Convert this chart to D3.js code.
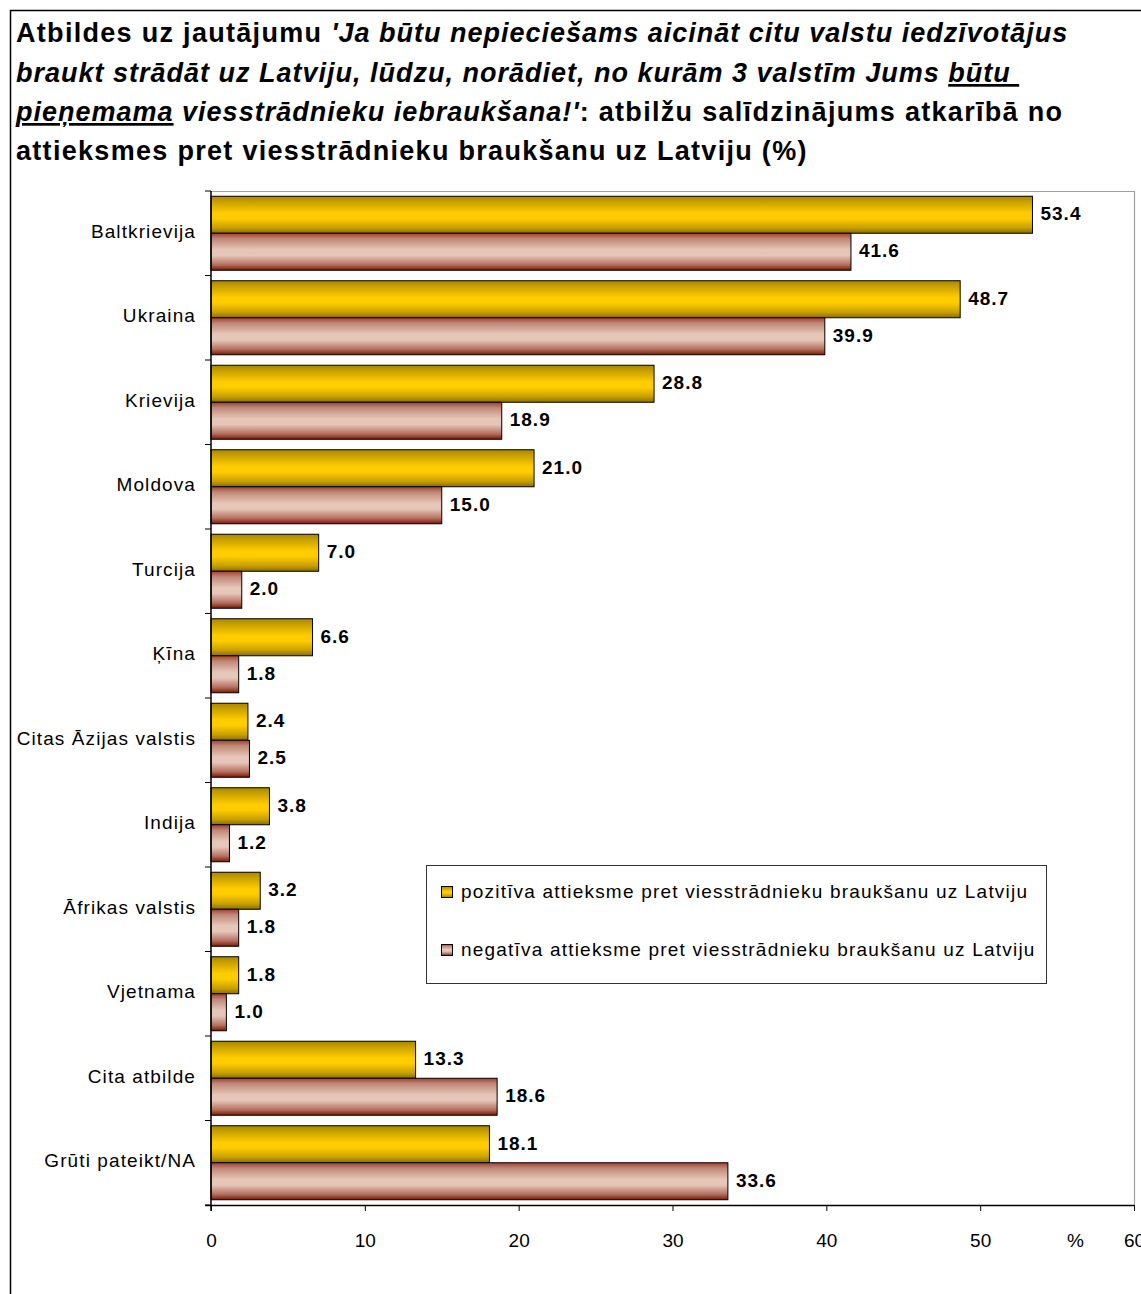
<!DOCTYPE html>
<html><head><meta charset="utf-8">
<script src="https://cdn.jsdelivr.net/npm/d3@7"></script>
<style>
html,body{margin:0;padding:0;background:#fff;}
svg{display:block;font-family:Arial,"Liberation Sans",sans-serif;}
</style></head>
<body>
<svg id="chart" width="1141" height="1294"></svg>
<script>
const categories = ["Baltkrievija","Ukraina","Krievija","Moldova","Turcija","Ķīna","Citas Āzijas valstis","Indija","Āfrikas valstis","Vjetnama","Cita atbilde","Grūti pateikt/NA"];
const seriesNames = ["pozitīva attieksme pret viesstrādnieku braukšanu uz Latviju","negatīva attieksme pret viesstrādnieku braukšanu uz Latviju"];
const positiveValues = [53.4,48.7,28.8,21.0,7.0,6.6,2.4,3.8,3.2,1.8,13.3,18.1];
const negativeValues = [41.6,39.9,18.9,15.0,2.0,1.8,2.5,1.2,1.8,1.0,18.6,33.6];
const xTicks = [0,10,20,30,40,50,60];

(function(){
const svg = d3.select("#chart");
const defs = svg.append("defs");

function grad(id, stops){
  const g = defs.append("linearGradient").attr("id",id).attr("x1",0).attr("y1",0).attr("x2",0).attr("y2",1);
  stops.forEach(s=>g.append("stop").attr("offset",s[0]).attr("stop-color",s[1]));
}
grad("gPos",[[0,"#a88700"],[0.15,"#c8a000"],[0.45,"#ffcc00"],[0.6,"#ffcc00"],[0.85,"#c8a000"],[1,"#8a6e00"]]);
grad("gNeg",[[0,"#a04030"],[0.15,"#c08878"],[0.45,"#e6c6b8"],[0.6,"#e6c6b8"],[0.85,"#b47060"],[1,"#7a1a00"]]);
const fills = ["url(#gPos)","url(#gNeg)"];

// outer frame
svg.append("line").attr("x1",10.5).attr("y1",10).attr("x2",10.5).attr("y2",1294).attr("stroke","#000").attr("stroke-width",1.5);
svg.append("line").attr("x1",10).attr("y1",10.5).attr("x2",1141).attr("y2",10.5).attr("stroke","#000").attr("stroke-width",1.5);

// title
const title = svg.append("text").attr("x",16).attr("font-size",27).attr("font-weight","bold").attr("fill","#000");
const lines = [
  [["Atbildes uz jautājumu ",{}],["'Ja būtu nepieciešams aicināt citu valstu iedzīvotājus",{i:1}]],
  [["braukt strādāt uz Latviju, lūdzu, norādiet, no kurām 3 valstīm Jums ",{i:1}],["būtu ",{i:1,u:1}]],
  [["pieņemama",{i:1,u:1}],[" viesstrādnieku iebraukšana!'",{i:1}],[": atbilžu salīdzinājums atkarībā no",{}]],
  [["attieksmes pret viesstrādnieku braukšanu uz Latviju (%)",{}]]
];
const baselines = [42,82,121,160];
lines.forEach((ln,li)=>{
  ln.forEach((seg,si)=>{
    const t = title.append("tspan").text(seg[0]);
    if(si===0) t.attr("x",16).attr("y",baselines[li]);
    if(seg[1].i) t.attr("font-style","italic").attr("letter-spacing",1.0);
    else t.attr("letter-spacing",1.3);
    if(seg[1].u) t.attr("text-decoration","underline");
  });
});

// plot
const pLeft = 211, pRight = 1134, pTop = 191, pBottom = 1205;
const x = d3.scaleLinear().domain([0,60]).range([pLeft,pRight]);
const y = d3.scaleBand().domain(categories).range([pTop,pBottom]).paddingInner(0.124).paddingOuter(0.062);
const ySub = d3.scaleBand().domain([0,1]).range([0,y.bandwidth()]);

svg.append("path").attr("d",`M${pLeft},${pTop+0.5}H${pRight+0.5}V${pBottom}`).attr("fill","none").attr("stroke","#a0a0a0").attr("stroke-width",1.2);

const data = [];
categories.forEach((c,i)=>{
  data.push({c, s:0, v:positiveValues[i]});
  data.push({c, s:1, v:negativeValues[i]});
});

svg.append("g").selectAll("rect").data(data).join("rect")
  .attr("x",x(0))
  .attr("y",d=>y(d.c)+ySub(d.s))
  .attr("width",d=>x(d.v)-x(0))
  .attr("height",ySub.bandwidth())
  .attr("fill",d=>fills[d.s])
  .attr("stroke","#000").attr("stroke-width",1);

svg.append("g").selectAll("text").data(data).join("text")
  .attr("x",d=>x(d.v)+8)
  .attr("y",d=>y(d.c)+ySub(d.s)+ySub.bandwidth()/2 - 1)
  .attr("dy","0.35em")
  .attr("font-size",19).attr("font-weight","bold").attr("letter-spacing",1).attr("fill","#000")
  .text(d=>d.v.toFixed(1));

// y axis
const yAxisScale = d3.scaleLinear().domain([0,categories.length]).range([pTop,pBottom]);
const gy = svg.append("g");
gy.append("line").attr("x1",pLeft).attr("x2",pLeft).attr("y1",pTop).attr("y2",pBottom+6).attr("stroke","#000").attr("stroke-width",1.5);
gy.selectAll("line.t").data(d3.range(categories.length+1)).join("line").attr("class","t")
  .attr("x1",pLeft-6).attr("x2",pLeft).attr("y1",d=>yAxisScale(d)).attr("y2",d=>yAxisScale(d)).attr("stroke","#000");
gy.selectAll("text").data(categories).join("text")
  .attr("x",196).attr("y",d=>y(d)+y.bandwidth()/2 - 1).attr("dy","0.3em")
  .attr("text-anchor","end").attr("font-size",19).attr("letter-spacing",1.1).attr("fill","#000").text(d=>d);

// x axis
const xAxis = d3.axisBottom(x).tickValues(xTicks).tickSize(6).tickPadding(23).tickFormat(d3.format("d"));
const gx = svg.append("g").attr("transform",`translate(0,${pBottom})`).call(xAxis);
gx.select(".domain").attr("stroke","#000").attr("stroke-width",1.5).attr("d",`M${pLeft-6},0.5H${pRight}`);
gx.selectAll(".tick line").attr("stroke","#000");
gx.selectAll(".tick text").attr("font-size",19).attr("font-family","Arial, 'Liberation Sans', sans-serif").attr("fill","#000");
svg.append("text").attr("x",x(56.2)).attr("y",pBottom+29).attr("dy","0.71em").attr("text-anchor","middle").attr("font-size",19).attr("fill","#000").text("%");

// legend
const lg = svg.append("g");
lg.append("rect").attr("x",426.5).attr("y",865.5).attr("width",620).attr("height",118).attr("fill","#fff").attr("stroke","#333").attr("stroke-width",1);
seriesNames.forEach((n,i)=>{
  const yy = 891 + i*58;
  lg.append("rect").attr("x",441.5).attr("y",yy-4.5).attr("width",11).attr("height",11).attr("fill",fills[i]).attr("stroke","#000");
  lg.append("text").attr("x",461).attr("y",yy).attr("dy","0.35em").attr("font-size",19).attr("letter-spacing",1.2).attr("fill","#000").text(n);
});
})();
</script>
</body></html>
